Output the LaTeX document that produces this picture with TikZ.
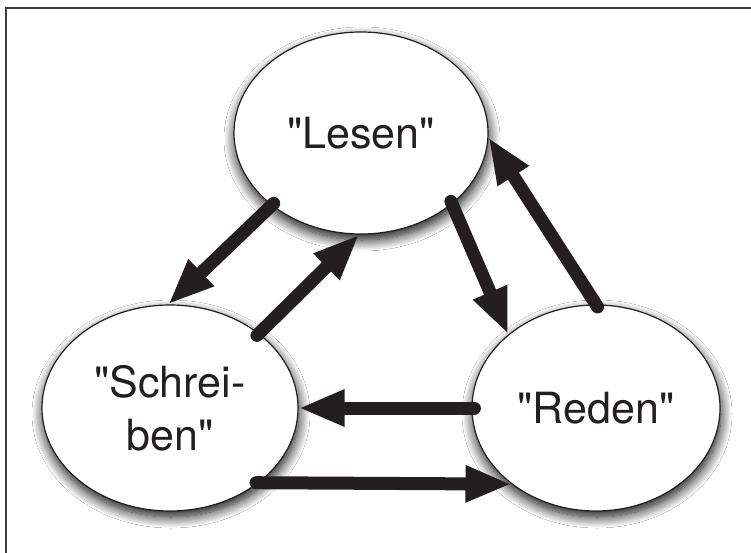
\documentclass[tikz,border=0pt]{standalone}
\usepackage{fontspec}
\setmainfont{TeX Gyre Heros}[Ligatures=TeXOff]
\usetikzlibrary{shapes.geometric,arrows.meta,shadows.blur}
\definecolor{ink}{RGB}{35,31,32}
\definecolor{framec}{RGB}{60,60,60}
\begin{document}
\begin{tikzpicture}[x=1pt,y=-1pt,
  bubble/.style={ellipse, draw=ink, line width=1.2pt, fill=white, inner sep=0pt, align=center,
    font=\fontsize{43}{53}\selectfont, text=ink,
    blur shadow={shadow xshift=1pt, shadow yshift=-6pt, shadow blur radius=11pt,
                 shadow blur steps=14, shadow opacity=95}},
  flow/.style={line width=13pt, line cap=round, draw=ink, shorten <=-3pt,
    -{Triangle[length=46pt,width=34pt]}}]
\fill[white] (0,0) rectangle (751,553);
\useasboundingbox (0,0) rectangle (751,553);
\coordinate (fbl) at (6,553);
\coordinate (ftl) at (6,8);
\coordinate (ftr) at (751,8);
\draw[framec, line width=2pt] (fbl) -- (ftl) -- (ftr);

\node[bubble, minimum width=254pt, minimum height=202pt] (L) at (361,133) {"Lesen"};
\node[bubble, minimum width=256pt, minimum height=206pt] (S) at (170,408) {"Schrei-\\ben"};
\node[bubble, minimum width=248pt, minimum height=206pt] (R) at (596,408) {"Reden"};

\draw[flow] (L.-141.5) -- (S.91);
\draw[flow] (S.40) -- (L.-91);
\draw[flow] (L.-38) -- (R.140.3);
\draw[flow] (R.90) -- (L.-2);
\draw[flow] (R.180) -- (S.0);
\draw[flow] (S.-40.5) -- (R.-138.5);
\end{tikzpicture}
\end{document}
